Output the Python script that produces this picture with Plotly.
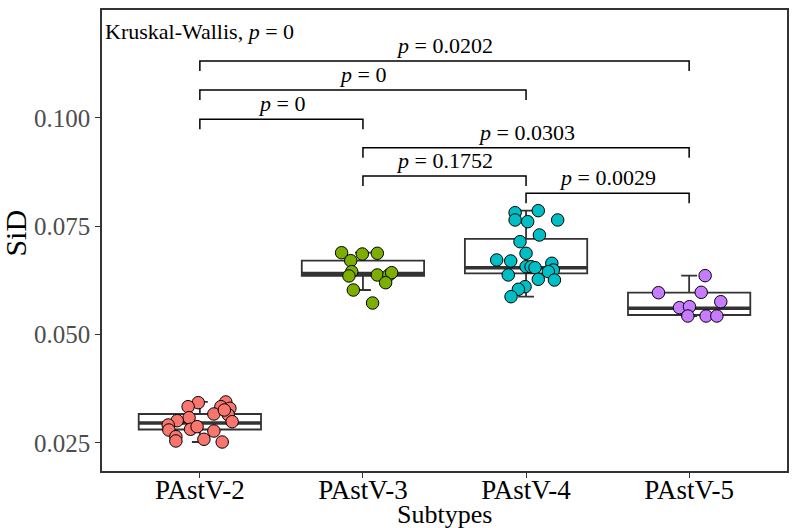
import plotly.graph_objects as go

# ---------------- data ----------------
categories = ["PAstV-2", "PAstV-3", "PAstV-4", "PAstV-5"]
colors = ["#F8766D", "#7CAE00", "#00BFC4", "#C77CFF"]

sid_2 = [0.03430, 0.03337, 0.03446, 0.03337, 0.03300, 0.03169, 0.03153, 0.02991,
         0.03083, 0.03014, 0.02915, 0.02799, 0.02816, 0.02876, 0.02776, 0.02645,
         0.02546, 0.02585, 0.02522, 0.03261]
jit_2 = [-0.010, -0.072, 0.159, 0.129, 0.184, 0.086, 0.174, 0.198,
         -0.066, -0.139, -0.194, -0.190, -0.057, -0.017, 0.086, -0.147,
         -0.147, 0.025, 0.137, 0.150]

sid_3 = [0.06891, 0.06861, 0.06877, 0.06707, 0.06453, 0.06354, 0.06377, 0.06377,
         0.06430, 0.06199, 0.06030, 0.05730]
jit_3 = [-0.131, -0.004, 0.088, -0.075, -0.069, -0.086, 0.088, 0.159,
         0.176, 0.139, -0.059, 0.059]

sid_4 = [0.07814, 0.07861, 0.07646, 0.07607, 0.07646, 0.07300, 0.07145, 0.06877,
         0.06723, 0.06700, 0.06568, 0.06568, 0.06545, 0.06647, 0.06492, 0.06453,
         0.06377, 0.06277, 0.06261, 0.06107, 0.06047, 0.05876]
jit_4 = [-0.067, 0.075, -0.067, 0.010, 0.194, 0.082, -0.037, 0.000,
         -0.180, -0.094, 0.000, 0.031, 0.055, 0.158, 0.167, 0.137,
         -0.109, 0.075, 0.174, -0.006, -0.047, -0.092]

sid_5 = [0.06361, 0.05968, 0.05977, 0.05760, 0.05622, 0.05645, 0.05430, 0.05430, 0.05430]
jit_5 = [0.098, -0.188, 0.074, 0.194, -0.059, 0.002, -0.008, 0.104, 0.170]

# box statistics (as drawn in the reference)
q1 = [0.02811, 0.06354, 0.06416, 0.05453]
median = [0.02961, 0.06411, 0.06545, 0.05608]
q3 = [0.03169, 0.06707, 0.07208, 0.05968]
lower_fence = [0.02522, 0.06030, 0.05876, 0.05430]
upper_fence = [0.03446, 0.06891, 0.07861, 0.06361]

# pairwise comparisons
cmp_from = [0, 0, 0, 1, 1, 2]
cmp_to = [3, 2, 1, 3, 2, 3]
cmp_y = [0.11315, 0.10646, 0.09970, 0.09315, 0.08661, 0.08262]
cmp_p = ["0.0202", "0", "0", "0.0303", "0.1752", "0.0029"]
kruskal_p = "0"

y_ticks = [0.025, 0.050, 0.075, 0.100]

# ---------------- figure ----------------
FONT = "Liberation Serif, Times New Roman, serif"
BOX_W = 0.75
TICK_H = 0.0023

fig = go.Figure()
series = [(sid_2, jit_2), (sid_3, jit_3), (sid_4, jit_4), (sid_5, jit_5)]

for i, cat in enumerate(categories):
    fig.add_trace(go.Box(
        x=[i], q1=[q1[i]], median=[median[i]], q3=[q3[i]],
        lowerfence=[lower_fence[i]], upperfence=[upper_fence[i]],
        width=BOX_W, whiskerwidth=0.13, fillcolor="white",
        line=dict(color="#333333", width=1.8), boxpoints=False,
        showlegend=False, hoverinfo="skip"))
    fig.add_trace(go.Scatter(
        x=[i - BOX_W / 2, i + BOX_W / 2], y=[median[i], median[i]],
        mode="lines", line=dict(color="#333333", width=3.5),
        showlegend=False, hoverinfo="skip"))

for i, (vals, jit) in enumerate(series):
    fig.add_trace(go.Scatter(
        x=[i + j for j in jit], y=vals, mode="markers",
        marker=dict(size=12.5, color=colors[i], line=dict(color="black", width=1)),
        showlegend=False))

for a, b, yv, p in zip(cmp_from, cmp_to, cmp_y, cmp_p):
    fig.add_trace(go.Scatter(
        x=[a, a, b, b], y=[yv - TICK_H, yv, yv, yv - TICK_H],
        mode="lines", line=dict(color="black", width=1.5),
        showlegend=False, hoverinfo="skip"))
    fig.add_annotation(x=(a + b) / 2, y=yv, text=f"<i>p</i> = {p}",
                       showarrow=False, yanchor="bottom", yshift=1,
                       font=dict(family=FONT, size=22, color="black"))

fig.add_annotation(xref="paper", x=0, xanchor="left", xshift=1,
                   y=0.11985, yanchor="middle",
                   text=f"Kruskal-Wallis, <i>p</i> = {kruskal_p}",
                   showarrow=False, font=dict(family=FONT, size=22, color="black"))

# axis titles
fig.add_annotation(xref="paper", yref="paper", x=0.5, y=0, yanchor="middle",
                   yshift=-43, text="Subtypes", showarrow=False,
                   font=dict(family=FONT, size=26, color="black"))
fig.add_annotation(xref="paper", yref="paper", x=0, y=0.515, xanchor="center",
                   xshift=-86, textangle=-90, text="SiD", showarrow=False,
                   font=dict(family=FONT, size=30, color="black"))

fig.update_layout(
    width=793, height=528,
    margin=dict(l=102, r=6, t=10, b=57, autoexpand=False),
    plot_bgcolor="white", paper_bgcolor="white",
    font=dict(family=FONT, color="black"),
    xaxis=dict(range=[-0.6, 3.6], tickvals=list(range(len(categories))),
               ticktext=categories, showgrid=False, zeroline=False,
               showline=True, mirror=True, linecolor="#333333", linewidth=1.5,
               ticks="outside", ticklen=5, tickcolor="#333333", tickwidth=1.2,
               tickfont=dict(family=FONT, size=27, color="black"),
               ticklabelstandoff=-11, automargin=False),
    yaxis=dict(range=[0.01853, 0.12492], tickvals=y_ticks, tickformat=".3f",
               showgrid=False, zeroline=False,
               showline=True, mirror=True, linecolor="#333333", linewidth=1.5,
               ticks="outside", ticklen=5, tickcolor="#333333", tickwidth=1.2,
               tickfont=dict(family=FONT, size=25, color="#4D4D4D"),
               automargin=False),
)

fig.write_html("out.html", config={"displayModeBar": False},
               post_script="document.body.style.margin='0';")
